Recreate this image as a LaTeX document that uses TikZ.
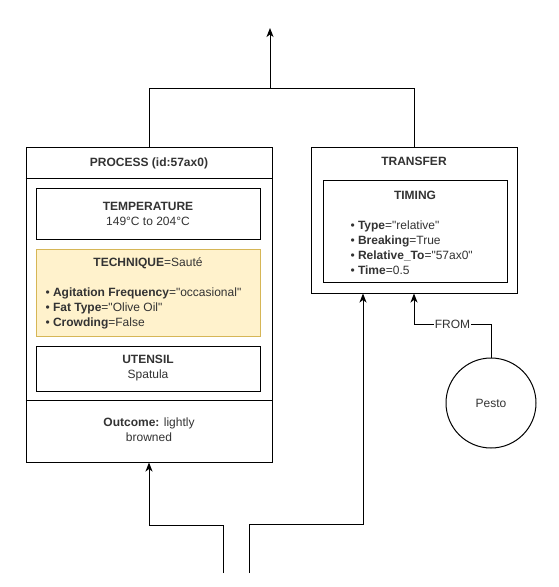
\documentclass[tikz,border=0pt]{standalone}
\usepackage{fontspec}
\setmainfont{Liberation Sans}[Ligatures=TeXOff]
\usetikzlibrary{arrows.meta}
\usetikzlibrary{positioning}
\definecolor{txt}{HTML}{333333}
\definecolor{techfill}{HTML}{FFF2CC}
\definecolor{techline}{HTML}{D6B656}

\begin{document}
\begin{tikzpicture}[x=1pt,y=-1pt,>={Stealth[length=9pt,width=7pt,inset=2.5pt]},line width=1pt,
	every node/.style={font=\fontsize{12}{15}\selectfont,text=txt},
	frame/.style={draw,fill=white,inner sep=0pt},
	inbox/.style={draw,fill=white,align=center,minimum width=224pt},
	techbox/.style={draw=techline,fill=techfill,minimum width=224pt},
	lbl/.style={inner sep=0pt,align=center},
	list/.style={inner sep=0pt,align=left,anchor=west}, ]
	\useasboundingbox (0,0) rectangle (559,587);

	% process block
	\node[frame,minimum width=246pt,minimum height=315pt] (proc) at (149,304.5) {};
	\draw (proc.west |- 0,178) -- (proc.east |- 0,178);
	\draw (proc.west |- 0,400) -- (proc.east |- 0,400);
	\node[lbl] (procname) at (149,163) {\textbf{PROCESS (id:57ax0)}};
	\node[inbox,minimum height=51pt] (temp) at (148,213.5) {\textbf{TEMPERATURE}\\149°C to 204°C};
	\node[techbox,minimum height=87pt,below=9pt of temp] (tech) {};
	\node[lbl] (techname) at (148,263) {\textbf{TECHNIQUE}=Sauté};
	\node[list] (techlist) at (45,308) {• \textbf{Agitation Frequency}="occasional"\\• \textbf{Fat Type}="Olive Oil"\\• \textbf{Crowding}=False};
	\node[inbox,minimum height=45pt,below=9pt of tech] (utensil) {\textbf{UTENSIL}\\Spatula};
	\node[lbl] (outcome) at (149,429.5) {\textbf{Outcome:} lightly\\browned};

	% transfer block
	\node[frame,minimum width=206pt,minimum height=146pt] (xfer) at (414,220) {};
	\node[lbl] (xfername) at (414,161) {\textbf{TRANSFER}};
	\node[frame,minimum width=184pt,minimum height=102pt] (timing) at (415,231) {};
	\node[lbl] (timingname) at (415,195) {\textbf{TIMING}};
	\node[list] (timinglist) at (350,247.5) {• \textbf{Type}="relative"\\• \textbf{Breaking}=True\\• \textbf{Relative\_To}="57ax0"\\• \textbf{Time}=0.5};

	\node[draw,circle,fill=white,minimum size=90pt,inner sep=0pt] (pesto) at (491,403) {Pesto};

	% connectors
	\coordinate (join) at (270,88);
	\coordinate (out) at (270,28);
	\coordinate (inA) at (223,573);
	\coordinate (inAturn) at (223,525);
	\coordinate (inB) at (249,573);
	\coordinate (inBturn) at (249,524);
	\coordinate (fromturn) at (491,324);
	\draw (proc.north) |- (join);
	\draw (xfer.north) |- (join);
	\draw[->] (join) -- (out);
	\draw[->] (inA) -- (inAturn) -| (proc.south);
	\draw[->] (inB) -- (inBturn) -| ([xshift=-51pt]xfer.south);
	\draw[->] (pesto.north) -- (fromturn) -| node[pos=0.25,fill=white,inner sep=1pt] {FROM} (xfer.south);
\end{tikzpicture}
\end{document}
